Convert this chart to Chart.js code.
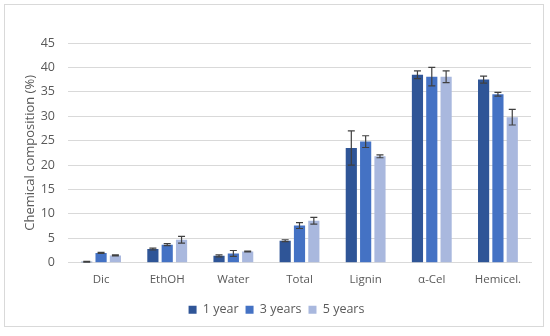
<!DOCTYPE html>
<html>
<head>
<meta charset="utf-8">
<script src="https://cdn.jsdelivr.net/npm/chart.js@4"></script>
<style>
    body { margin: 0; background: #fff; }
    #wrap { position: relative; width: 550px; height: 336px; }
    #frame { position: absolute; left: 4px; top: 4px; width: 540px; height: 323px; border: 1px solid #d9d9d9; box-sizing: border-box; }
</style>
</head>
<body>
<div id="wrap">
    <div id="frame"></div>
    <canvas id="chart" width="550" height="336"></canvas>
</div>
<script>
// data
var categories = ['Dic', 'EthOH', 'Water', 'Total', 'Lignin', 'α-Cel', 'Hemicel.'];
var seriesNames = ['1 year', '3 years', '5 years'];
var year1 = [0.2, 2.8, 1.4, 4.5, 23.5, 38.5, 37.5];
var year3 = [2.0, 3.7, 1.9, 7.6, 24.8, 38.1, 34.5];
var year5 = [1.5, 4.7, 2.3, 8.6, 21.8, 38.1, 29.8];
var err1 = [0.1, 0.2, 0.2, 0.2, 3.5, 0.8, 0.7];
var err3 = [0.1, 0.2, 0.6, 0.6, 1.2, 1.9, 0.4];
var err5 = [0.1, 0.7, 0.1, 0.7, 0.3, 1.2, 1.6];
var colors = ['#2F5597', '#4472C4', '#A9B8DE'];

var errorBars = {
    id: 'errorBars',
    afterDatasetsDraw: function(chart) {
        var ctx = chart.ctx;
        var yScale = chart.scales.y;
        ctx.save();
        ctx.strokeStyle = '#404040';
        ctx.lineWidth = 1.2;
        chart.data.datasets.forEach(function(ds, i) {
            var meta = chart.getDatasetMeta(i);
            meta.data.forEach(function(bar, j) {
                var v = ds.data[j];
                var e = ds.errors[j];
                var yTop = yScale.getPixelForValue(v + e);
                var yBot = yScale.getPixelForValue(v - e);
                var x = bar.x;
                ctx.beginPath();
                ctx.moveTo(x, yTop); ctx.lineTo(x, yBot);
                ctx.moveTo(x - 3.5, yTop); ctx.lineTo(x + 3.5, yTop);
                ctx.moveTo(x - 3.5, yBot); ctx.lineTo(x + 3.5, yBot);
                ctx.stroke();
            });
        });
        ctx.restore();
    }
};

var ctx = document.getElementById('chart').getContext('2d');
new Chart(ctx, {
    type: 'bar',
    data: {
        labels: categories,
        datasets: [
            { label: seriesNames[0], data: year1, errors: err1, backgroundColor: colors[0] },
            { label: seriesNames[1], data: year3, errors: err3, backgroundColor: colors[1] },
            { label: seriesNames[2], data: year5, errors: err5, backgroundColor: colors[2] }
        ]
    },
    options: {
        responsive: false,
        animation: false,
        categoryPercentage: 0.65,
        barPercentage: 0.78,
        layout: { padding: { left: 22, right: 19, top: 43, bottom: 10 } },
        scales: {
            x: {
                grid: { display: false, drawTicks: false },
                border: { color: '#d9d9d9' },
                ticks: { color: '#595959', font: { family: 'Open Sans', size: 11.5 }, padding: 10 }
            },
            y: {
                min: 0,
                max: 45,
                afterFit: function(scale) { scale.width = 46; },
                ticks: { stepSize: 5, color: '#595959', font: { family: 'Open Sans', size: 12.5 }, padding: 13 },
                grid: { color: '#d9d9d9', drawTicks: false },
                border: { display: false },
                title: { display: true, text: 'Chemical composition (%)', color: '#595959', font: { family: 'Open Sans', size: 13 }, padding: { top: 0, bottom: 2 } }
            }
        },
        plugins: {
            legend: {
                position: 'bottom',
                labels: { boxWidth: 8, boxHeight: 8, color: '#595959', font: { family: 'Open Sans', size: 12.5 }, padding: 7 }
            },
            tooltip: { enabled: false }
        }
    },
    plugins: [errorBars]
});
</script>
</body>
</html>
